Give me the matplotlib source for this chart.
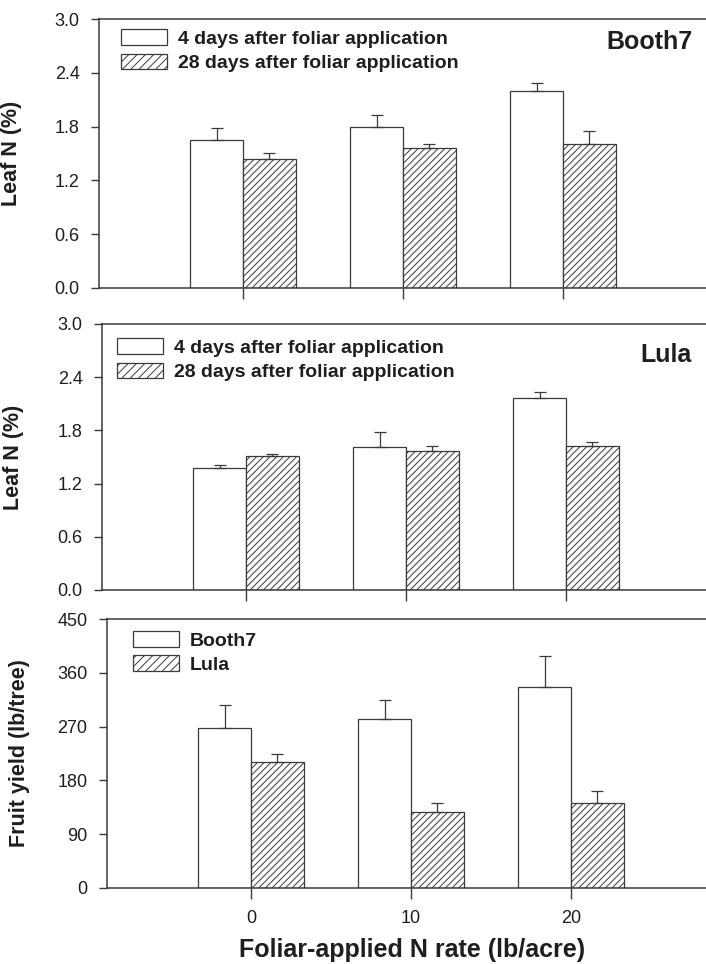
import matplotlib
matplotlib.use("Agg")
import matplotlib.pyplot as plt
from matplotlib.patches import Patch
import numpy as np

plt.rcParams['font.family'] = ['Liberation Sans', 'DejaVu Sans']
plt.rcParams['hatch.linewidth'] = 0.7

# ---- data ----
rates = [0, 10, 20]
rate_labels = ['0', '10', '20']

booth7_4d = [1.65, 1.795, 2.20]
booth7_4d_err = [0.13, 0.13, 0.083]
booth7_28d = [1.435, 1.565, 1.61]
booth7_28d_err = [0.075, 0.045, 0.144]

lula_4d = [1.38, 1.61, 2.16]
lula_4d_err = [0.03, 0.17, 0.07]
lula_28d = [1.51, 1.565, 1.625]
lula_28d_err = [0.026, 0.06, 0.042]

yield_booth7 = [268, 282, 337]
yield_booth7_err = [38, 33, 51]
yield_lula = [210, 127, 142]
yield_lula_err = [15, 15, 21]

leg_leaf = ['4 days after foliar application', '28 days after foliar application']
leg_yield = ['Booth7', 'Lula']

# ---- style ----
EDGE = '#3a3a3a'
TXT = '#1e1e1e'
W, H = 706, 964
fig = plt.figure(figsize=(W / 100, H / 100), dpi=100)

def add_axes(left_px, top_px, bottom_px, width_px=608):
    return fig.add_axes([left_px / W, (H - bottom_px) / H, width_px / W, (bottom_px - top_px) / H])

ax1 = add_axes(99, 19, 288)
ax2 = add_axes(102, 324, 590)
ax3 = add_axes(107, 619, 888)

bw = 3.3
x = np.array(rates, dtype=float)

def draw(ax, a, aerr, b, berr, ylim, yticks, fmt, legend_labels, leg_anchor, ylabel, ylabel_x):
    ax.bar(x - bw / 2, a, width=bw, facecolor='white', edgecolor=EDGE, linewidth=0.9, zorder=2)
    ax.bar(x + bw / 2, b, width=bw, facecolor='white', edgecolor=EDGE, hatch='/////', linewidth=0.9, zorder=2)
    ax.errorbar(x - bw / 2, a, yerr=[np.zeros(3), aerr], fmt='none', ecolor=EDGE,
                elinewidth=0.9, capsize=4, capthick=0.9, zorder=3)
    ax.errorbar(x + bw / 2, b, yerr=[np.zeros(3), berr], fmt='none', ecolor=EDGE,
                elinewidth=0.9, capsize=4, capthick=0.9, zorder=3)
    ax.set_xlim(-9, 29)
    ax.set_ylim(*ylim)
    ax.set_yticks(yticks)
    ax.set_yticklabels([fmt.format(v) for v in yticks])
    ax.set_xticks(rates)
    for s in ['top', 'left', 'bottom']:
        ax.spines[s].set_color(EDGE)
        ax.spines[s].set_linewidth(1.1)
    ax.spines['right'].set_visible(False)
    ax.tick_params(axis='y', direction='out', length=6, width=1, pad=8,
                   labelsize=13, colors=EDGE, labelcolor=TXT)
    ax.tick_params(axis='x', direction='out', length=8, width=1, pad=8,
                   labelsize=13, colors=EDGE, labelcolor=TXT)
    handles = [Patch(facecolor='white', edgecolor=EDGE, linewidth=0.9),
               Patch(facecolor='white', edgecolor=EDGE, hatch='////', linewidth=0.9)]
    ax.legend(handles, legend_labels, loc='upper left', bbox_to_anchor=leg_anchor,
              frameon=False, borderaxespad=0, borderpad=0, handlelength=2.35,
              handleheight=0.85, handletextpad=0.55, labelspacing=0.3,
              prop={'weight': 'bold', 'size': 14}, labelcolor=TXT)
    ax.set_ylabel(ylabel, fontsize=15.5, fontweight='bold', color=TXT)
    ax.yaxis.set_label_coords(ylabel_x, 0.5)

yt_leaf = [0.0, 0.6, 1.2, 1.8, 2.4, 3.0]
yt_yield = [0, 90, 180, 270, 360, 450]

draw(ax1, booth7_4d, booth7_4d_err, booth7_28d, booth7_28d_err, (0, 3.0), yt_leaf, '{:.1f}',
     leg_leaf, (0.037, 0.962), 'Leaf N (%)', (22 - 99) / 608)
draw(ax2, lula_4d, lula_4d_err, lula_28d, lula_28d_err, (0, 3.0), yt_leaf, '{:.1f}',
     leg_leaf, (0.025, 0.946), 'Leaf N (%)', (24 - 102) / 608)
draw(ax3, yield_booth7, yield_booth7_err, yield_lula, yield_lula_err, (0, 450), yt_yield, '{:.0f}',
     leg_yield, (0.043, 0.955), 'Fruit yield (lb/tree)', (30 - 107) / 608)

ax1.set_xticklabels([])
ax2.set_xticklabels([])
ax3.set_xticklabels(rate_labels)

ax1.text(0.977, 0.913, 'Booth7', transform=ax1.transAxes, ha='right', va='center',
         fontsize=18, fontweight='bold', color=TXT)
ax2.text(0.969, 0.883, 'Lula', transform=ax2.transAxes, ha='right', va='center',
         fontsize=18, fontweight='bold', color=TXT)

fig.text(412 / W, 1 - 950 / H, 'Foliar-applied N rate (lb/acre)', ha='center', va='center',
         fontsize=18, fontweight='bold', color=TXT)

fig.savefig('out.png', dpi=100)
